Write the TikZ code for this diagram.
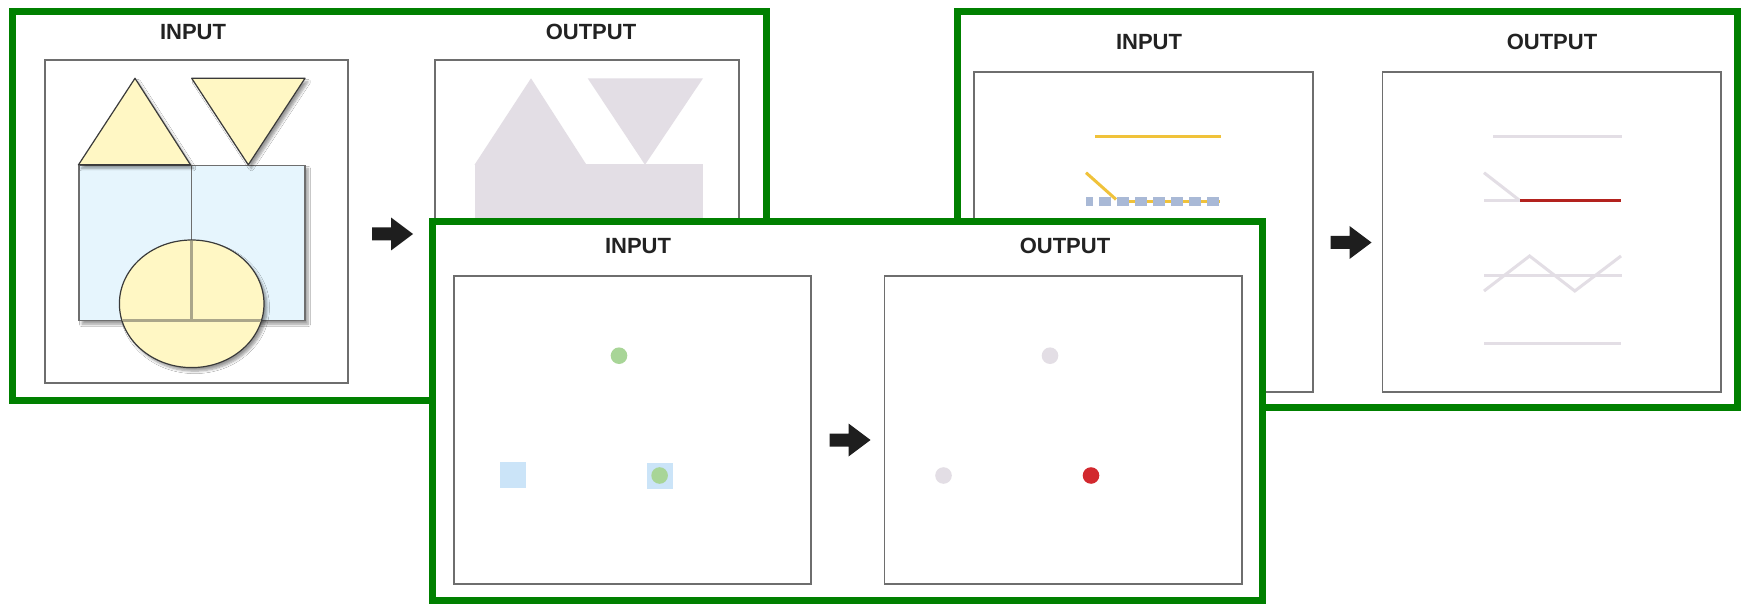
\documentclass[tikz,border=0pt]{standalone}
\usepackage{fontspec}
\setmainfont{Liberation Sans}
\usetikzlibrary{shadows.blur}
\definecolor{frameg}{HTML}{008000}
\definecolor{boxgray}{HTML}{6E6E6E}
\definecolor{labelc}{HTML}{222222}
\definecolor{arrowc}{HTML}{1E1E1E}
\definecolor{shapeyel}{HTML}{FFF7C4}
\definecolor{shapeblue}{HTML}{E6F5FD}
\definecolor{shapeedge}{HTML}{3A3A3A}
\definecolor{olive}{HTML}{ABA68A}
\definecolor{lav}{HTML}{E3DEE5}
\definecolor{lineyel}{HTML}{F0C23A}
\definecolor{dashblue}{HTML}{A9B9D6}
\definecolor{redline}{HTML}{B3221E}
\definecolor{dotgreen}{HTML}{A8D597}
\definecolor{sqblue}{HTML}{CBE4F8}
\definecolor{dotred}{HTML}{D2282E}
\tikzset{
  pics/blockarr/.style={code={
    \fill[arrowc] (0,-6.5) -- (19,-6.5) -- (19,-16.5) -- (41,0) -- (19,16.5) -- (19,6.5) -- (0,6.5) -- cycle;}},
}
\begin{document}
\begin{tikzpicture}[x=1pt,y=-1pt,
  frame/.style={draw=frameg, line width=7pt, fill=white},
  panel/.style={draw=boxgray, line width=1.8pt, fill=white},
  lbl/.style={font=\fontsize{22}{26}\selectfont\bfseries, text=labelc, anchor=base, inner sep=0pt},
  yshape/.style={fill=shapeyel, draw=shapeedge, line width=1.2pt, line join=round,
    blur shadow={shadow xshift=3pt, shadow yshift=-3.5pt, shadow blur radius=2.5pt, shadow blur steps=6, shadow opacity=40}},
  bshape/.style={fill=shapeblue, draw=boxgray, line width=1.5pt,
    blur shadow={shadow xshift=3pt, shadow yshift=-3.5pt, shadow blur radius=2.5pt, shadow blur steps=6, shadow opacity=40}},
  thin/.style={line width=3pt},
]
\useasboundingbox (0,0) rectangle (1746,604);
\fill[white] (0,0) rectangle (1746,604);

% ---------------- Frame 1 ----------------
\draw[frame] (12.5,11.7) rectangle (766.5,400.3);
\node[lbl] (f1in) at (193,40) {INPUT};
\node[lbl] (f1out) at (591,40) {OUTPUT};
\draw[panel] (45,60) rectangle (348,383.3);
\draw[panel] (435,60) rectangle (739,383.3);
% input shapes
\draw[bshape] (79,165.3) rectangle (305,320.7);
\draw[boxgray, line width=1.5pt] (191.7,165.3) -- (191.7,320.7);
\draw[yshape] (78.5,164.8) -- (135,78.3) -- (190.5,164.8) -- cycle;
\draw[yshape] (191.7,78.3) -- (305,78.3) -- (248.3,164.8) -- cycle;
\draw[yshape] (191.7,303.8) ellipse [x radius=72.3, y radius=63.8];
\begin{scope}
  \clip (191.7,303.8) ellipse [x radius=71.5, y radius=63];
  \draw[olive, line width=2.5pt] (191.7,165) -- (191.7,320.7);
  \draw[olive, line width=2.5pt] (79,320.7) -- (305,320.7);
\end{scope}
% output union
\fill[lav] (474.5,164.8) -- (531,78.3) -- (586.5,164.8) -- cycle;
\fill[lav] (587.7,78.3) -- (703,78.3) -- (645,164.8) -- cycle;
\fill[lav] (475,164.5) rectangle (703,320.7);
\fill[lav] (589,303.8) ellipse [x radius=72.3, y radius=63.8];
\pic at (372,234) {blockarr};

% ---------------- Frame 2 ----------------
\draw[frame] (957.5,11.7) rectangle (1737,407.5);
\node[lbl] (f2in) at (1149,50) {INPUT};
\node[lbl] (f2out) at (1552,50) {OUTPUT};
\draw[panel] (974,72.3) rectangle (1313,391.7);
\draw[panel] (1382.5,72.3) rectangle (1720.6,391.7);
% input lines
\draw[lineyel, thin] (1095,136.7) -- (1220.6,136.7);
\draw[lineyel, thin] (1118,201.2) -- (1220,201.2);
\draw[dashblue, line width=9pt, dash pattern=on 12pt off 6pt, dash phase=5pt] (1086,201.2) -- (1220,201.2);
\draw[lineyel, thin] (1086,172.7) -- (1116,199.4);
% output lines
\draw[lav, thin] (1493,136.7) -- (1622,136.7);
\draw[lav, thin] (1484,172.7) -- (1520,200.7);
\draw[lav, thin] (1484,201) -- (1547,201);
\draw[redline, line width=3.5pt] (1520,200.7) -- (1621,200.7);
\draw[lav, thin] (1484,275) -- (1622,275);
\draw[lav, thin] (1484,291) -- (1529.6,256) -- (1574.8,291) -- (1621,256);
\draw[lav, thin] (1484,343.3) -- (1621,343.3);
\pic at (1330.5,242.5) {blockarr};

% ---------------- Frame 3 ----------------
\draw[frame] (432,221.3) rectangle (1262,600.5);
\node[lbl] (f3in) at (638,253.5) {INPUT};
\node[lbl] (f3out) at (1065,254) {OUTPUT};
\draw[panel] (453.6,276) rectangle (811,584);
\draw[panel] (884.5,276) rectangle (1242,584);
% input points
\fill[dotgreen] (619,355.7) circle [radius=8.3];
\fill[sqblue] (499.7,462) rectangle (525.7,488);
\fill[sqblue] (646.6,462.5) rectangle (672.6,488.5);
\fill[dotgreen] (659.6,475.5) circle [radius=8.3];
% output points
\fill[lav] (1050,355.7) circle [radius=8.3];
\fill[lav] (943.5,475.5) circle [radius=8.3];
\fill[dotred] (1091,475.5) circle [radius=8.3];
\pic at (829.5,440) {blockarr};
\end{tikzpicture}
\end{document}
